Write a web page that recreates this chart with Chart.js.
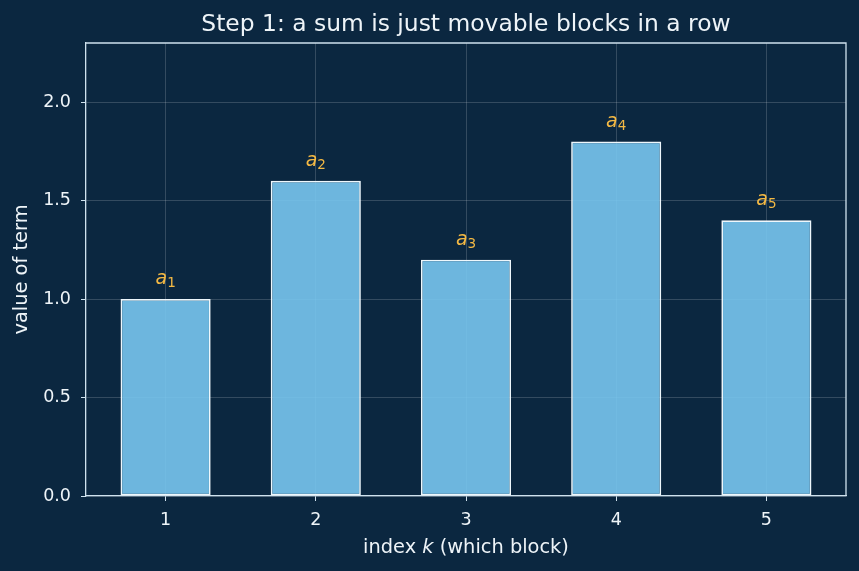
<!DOCTYPE html>
<html>
<head>
<meta charset="utf-8">
<script src="https://cdn.jsdelivr.net/npm/chart.js@4"></script>
<style>
  html, body { margin: 0; padding: 0; background: #0b2740; }
  #wrap { width: 859px; height: 571px; }
</style>
</head>
<body>
<div id="wrap"><canvas id="chart" width="859" height="571"></canvas></div>
<script>
// data
const indices = [1, 2, 3, 4, 5];
const termValues = [1.0, 1.6, 1.2, 1.8, 1.4];
const termLabels = ["1", "2", "3", "4", "5"];
const yTicks = [0, 0.5, 1.0, 1.5, 2.0];
const chartTitle = "Step 1: a sum is just movable blocks in a row";

const bg = "#0b2740";
const fg = "#eef4f8";
const spine = "#cfe2ee";
const gridCol = "rgba(255,255,255,0.17)";
const labelCol = "#f4b944";
const font = "DejaVu Sans";

// background, title, top/right spines, a_k labels, x title with italic k
const extras = {
  id: "extras",
  beforeDraw(chart) {
    const ctx = chart.ctx;
    ctx.save();
    ctx.fillStyle = bg;
    ctx.fillRect(0, 0, chart.width, chart.height);
    ctx.restore();
  },
  afterDraw(chart) {
    const { ctx, chartArea: a, scales } = chart;
    const midX = (a.left + a.right) / 2;
    ctx.save();
    ctx.strokeStyle = spine;
    ctx.lineWidth = 1.3;
    ctx.beginPath();
    ctx.moveTo(a.left, a.top);
    ctx.lineTo(a.right, a.top);
    ctx.lineTo(a.right, a.bottom);
    ctx.stroke();

    // title, centred over the plot area
    ctx.fillStyle = fg;
    ctx.font = "23.4px '" + font + "'";
    ctx.textAlign = "center";
    ctx.textBaseline = "middle";
    ctx.fillText(chartTitle, midX, 25);

    // labels above bars
    ctx.textAlign = "left";
    indices.forEach((k, i) => {
      const x = scales.x.getPixelForValue(k);
      const y = scales.y.getPixelForValue(termValues[i] + 0.075);
      ctx.font = "italic 19px '" + font + "'";
      const wa = ctx.measureText("a").width;
      ctx.font = "13.5px '" + font + "'";
      const ws = ctx.measureText(termLabels[i]).width;
      const x0 = x - (wa + ws) / 2;
      ctx.fillStyle = labelCol;
      ctx.textBaseline = "alphabetic";
      ctx.font = "italic 19px '" + font + "'";
      ctx.fillText("a", x0, y);
      ctx.font = "13.5px '" + font + "'";
      ctx.fillText(termLabels[i], x0 + wa, y + 3);
    });

    // x axis title
    const parts = [["index ", "19.4px"], ["k", "italic 19.4px"], [" (which block)", "19.4px"]];
    let total = 0;
    parts.forEach(p => { ctx.font = p[1] + " '" + font + "'"; total += ctx.measureText(p[0]).width; });
    let cx = midX - total / 2;
    ctx.fillStyle = fg;
    ctx.textBaseline = "middle";
    parts.forEach(p => {
      ctx.font = p[1] + " '" + font + "'";
      ctx.fillText(p[0], cx, 548);
      cx += ctx.measureText(p[0]).width;
    });
    ctx.restore();
  }
};

new Chart(document.getElementById("chart"), {
  type: "bar",
  data: {
    datasets: [{
      data: indices.map((k, i) => ({ x: k, y: termValues[i] })),
      backgroundColor: "rgba(120,198,240,0.9)",
      borderColor: "#eef7fc",
      borderWidth: 1.7,
      borderSkipped: false,
      categoryPercentage: 1,
      barPercentage: 0.6
    }]
  },
  options: {
    responsive: false,
    animation: false,
    layout: { padding: { left: 0, right: 13, top: 43, bottom: 0 } },
    plugins: {
      legend: { display: false },
      tooltip: { enabled: false },
      title: { display: false }
    },
    scales: {
      x: {
        type: "linear",
        min: 0.47,
        max: 5.53,
        offset: false,
        afterBuildTicks: s => { s.ticks = indices.map(v => ({ value: v })); },
        afterFit: s => { s.height = 75; },
        ticks: { color: fg, font: { family: font, size: 17.5 }, padding: 9, callback: v => String(v) },
        grid: { offset: false, color: gridCol, tickColor: spine, tickLength: 5, lineWidth: 1 },
        border: { color: spine, width: 1.3 }
      },
      y: {
        min: 0,
        max: 2.3,
        afterBuildTicks: s => { s.ticks = yTicks.map(v => ({ value: v })); },
        afterFit: s => { s.width = 86; },
        ticks: { color: fg, font: { family: font, size: 17.5 }, padding: 10, callback: v => v.toFixed(1) },
        grid: { color: gridCol, tickColor: spine, tickLength: 5, lineWidth: 1 },
        border: { color: spine, width: 1.3 },
        title: { display: true, text: "value of term", color: fg, font: { family: font, size: 19.4 }, padding: { top: 10, bottom: 0 } }
      }
    }
  },
  plugins: [extras]
});
</script>
</body>
</html>
